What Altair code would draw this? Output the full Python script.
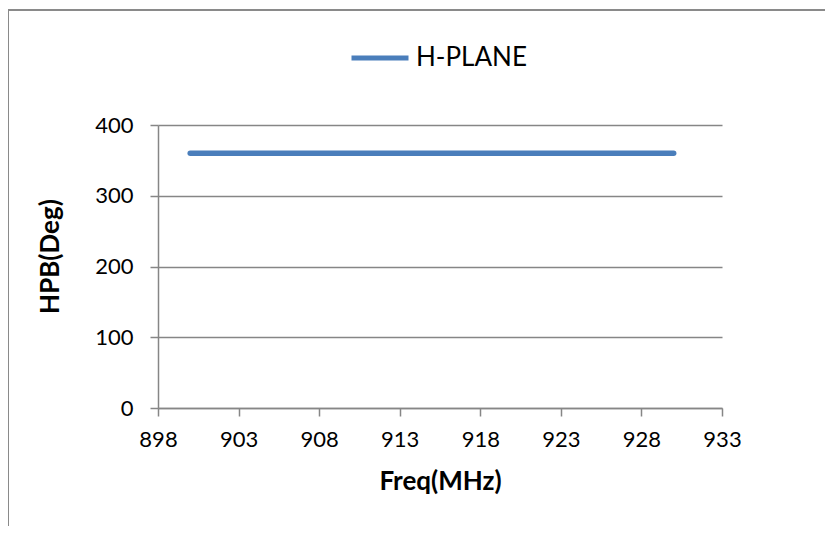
import altair as alt
import pandas as pd

freq = [900, 905, 910, 915, 920, 925, 930]
hpb = [360, 360, 360, 360, 360, 360, 360]
series = ["H-PLANE"] * len(freq)
x_ticks = [898, 903, 908, 913, 918, 923, 928, 933]
y_ticks = [0, 100, 200, 300, 400]

df = pd.DataFrame({"freq": freq, "hpb": hpb, "series": series})

FONT = "Lato"
GRAY = "#868686"
BLUE = "#4A7EBB"

line = alt.Chart(df).mark_line(strokeWidth=5.5, strokeCap="round").encode(
    x=alt.X("freq:Q",
            scale=alt.Scale(domain=[898, 933], nice=False, zero=False),
            axis=alt.Axis(values=x_ticks, title="Freq(MHz)", grid=False,
                          domainColor=GRAY, domainWidth=1.5, tickColor=GRAY, tickWidth=1.5,
                          tickSize=8, labelPadding=13, labelFontSize=22, labelFont=FONT,
                          labelColor="#000000", titleFont=FONT, titleFontSize=26,
                          titleFontWeight="bold", titleColor="#000000", titlePadding=18,
                          labelFlush=False)),
    y=alt.Y("hpb:Q",
            scale=alt.Scale(domain=[0, 400], nice=False),
            axis=alt.Axis(values=y_ticks, title="HPB(Deg)", grid=True, gridColor=GRAY,
                          gridWidth=1.5, domainColor=GRAY, domainWidth=1.5, tickColor=GRAY,
                          tickWidth=1.5, tickSize=8, labelPadding=17, labelFontSize=22,
                          labelFont=FONT, labelColor="#000000", titleFont=FONT,
                          titleFontSize=26, titleFontWeight="bold", titleColor="#000000",
                          titlePadding=31, titleY=131, labelFlush=False)),
    color=alt.Color("series:N",
                    scale=alt.Scale(domain=["H-PLANE"], range=[BLUE]),
                    legend=alt.Legend(title=None, orient="none", legendX=191, legendY=-98,
                                      symbolType="stroke", symbolSize=3249,
                                      symbolStrokeWidth=5, labelFontSize=26,
                                      labelFont=FONT, labelColor="#000000",
                                      labelOffset=5, padding=0)),
)

border_left = alt.Chart(df).mark_rule(color="#8a8a8a", strokeWidth=2).encode(
    x=alt.value(-150), y=alt.value(-115), y2=alt.value(500))
border_top = alt.Chart(df).mark_rule(color="#8a8a8a", strokeWidth=2).encode(
    x=alt.value(-150), x2=alt.value(800), y=alt.value(-115))

chart = alt.layer(border_left, border_top, line).properties(
    width=564, height=283,
    autosize=alt.AutoSizeParams(type="none"),
    padding={"left": 150, "top": 117, "right": 103, "bottom": 118},
).configure_view(stroke=None)

chart.save("out.html", embed_options={"renderer": "svg", "actions": False})
